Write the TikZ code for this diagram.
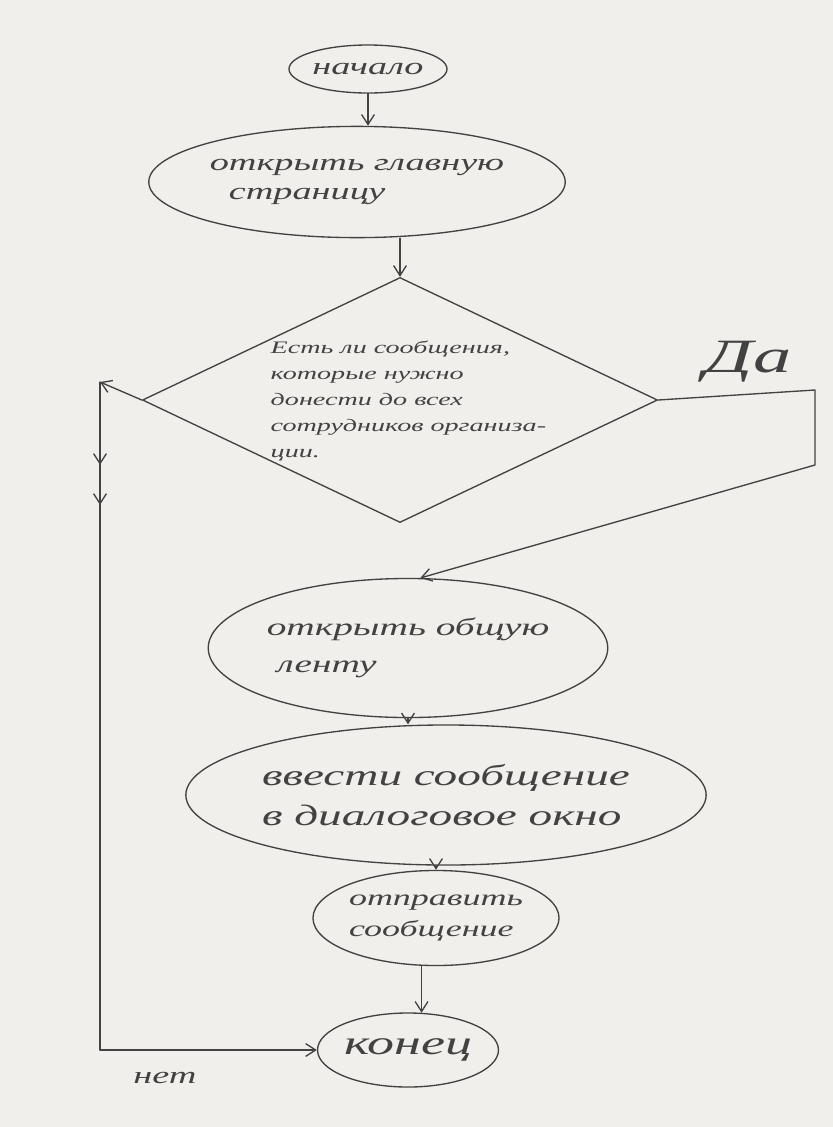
\documentclass[tikz,border=0pt]{standalone}
\usepackage{fontspec}
\newfontfamily\handfont[FakeStretch=1.6]{Liberation Serif}
\usetikzlibrary{arrows.meta,shapes.geometric,decorations.markings}
\definecolor{PaperClr}{RGB}{241,239,236}
\definecolor{PenClr}{RGB}{66,66,66}
\newcommand{\hand}[2]{\handfont\itshape\fontsize{#1}{#2}\selectfont}

\begin{document}
\begin{tikzpicture}[x=0.025cm,y=-0.025cm,
  pen/.style={draw=PenClr,line width=0.95pt,line cap=round,line join=round},
  arrow/.style={pen,-{Straight Barb[length=2.5mm,width=3.2mm]}},
  oval/.style={pen,ellipse,inner sep=0pt,align=left,text=PenClr},
  decision/.style={pen,diamond,aspect=2.1,inner sep=-14pt,align=left,text=PenClr},
  label/.style={text=PenClr,inner sep=0pt},
  midarrows/.style={postaction={decorate},decoration={markings,
    mark=at position 0.124 with {\arrow{Straight Barb[length=2.5mm,width=3.2mm]}},
    mark=at position 0.184 with {\arrow{Straight Barb[length=2.5mm,width=3.2mm]}}}}]

\fill[PaperClr] (0,0) rectangle (833,1127);
\useasboundingbox (0,0) rectangle (833,1127);

% blocks
\node[oval,minimum width=3.95cm,minimum height=1.2cm,font=\hand{17}{20}] (start) at (368,69) {начало};
\node[oval,minimum width=7cm,minimum height=2.78cm,font=\hand{17}{21}] (main) at (357,182) {открыть главную\\\ \ страницу};
\node[decision,minimum width=12.875cm,minimum height=6.125cm,font=\hand{12.5}{18.5}] (dia) at (400,400)
  {\hspace*{12pt}\begin{tabular}{@{}l@{}}Есть ли сообщения,\\которые нужно\\донести до всех\\сотрудников организа-\\ции.\end{tabular}};
\node[oval,minimum width=7.675cm,minimum height=3.475cm,font=\hand{17.5}{26}] (ribbon) at (408,648) {открыть общую\\\ ленту};
\node[oval,minimum width=9.825cm,minimum height=3.5cm,font=\hand{21}{28}] (input) at (446,795) {ввести сообщение\\в диалоговое окно};
\node[oval,minimum width=5.55cm,minimum height=2.375cm,font=\hand{16}{22}] (send) at (436,918) {отправить\\сообщение};
\node[oval,minimum width=4.45cm,minimum height=1.85cm,font=\hand{24}{26}] (end) at (408,1050) {конец};

\node[label,font=\hand{34}{36}] (yes) at (748,362) {Да};
\node[label,font=\hand{17}{20}] (no) at (165,1078) {нет};

% connectors
\draw[arrow] (start.south) -- (start.south |- main.north);
\draw[arrow] (dia.north |- main.south) -- (dia.north);
\coordinate (yesA) at (815,390);
\coordinate (yesB) at (815,465);
\draw[arrow] (dia.east) -- (yesA) -- (yesB) -- (ribbon.80);
\draw[arrow] (ribbon.south) -- (ribbon.south |- input.north);
\draw[arrow] (send.north |- input.south) -- (send.north);
\draw[arrow] (send.south -| end.70) -- (end.70);

\coordinate (noA) at (100,382);
\draw[arrow] (dia.west) -- (noA);
\draw[pen,midarrows] (noA) -- (noA |- end.west);
\draw[arrow] (noA |- end.west) -- (end.west);
\end{tikzpicture}
\end{document}
